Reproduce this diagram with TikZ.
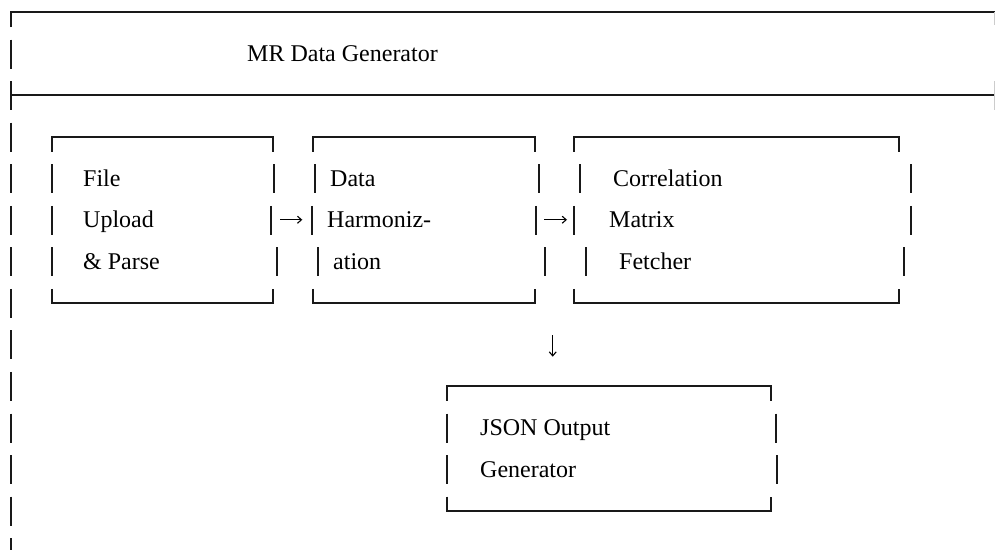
\documentclass[tikz,border=0pt]{standalone}
\usepackage{fontspec}
\setmainfont{Liberation Serif}
\usetikzlibrary{arrows.meta}
\newcommand\myB[1]{(20+41.55*(#1))}
\begin{document}
\begin{tikzpicture}[x=1pt,y=-1pt,
  frameline/.style={line width=2.1pt, line cap=butt, black!90},
  faintline/.style={line width=1pt, black!20},
  flow/.style={line width=1.1pt, -{Straight Barb[length=4pt,width=7pt,line width=1.1pt]}},
  lbl/.style={anchor=base west, inner sep=0pt, font=\fontsize{24}{28}\selectfont},
  boxarea/.style={draw=none, inner sep=0pt, outer sep=0pt, anchor=north west}]
\useasboundingbox (0,0) rectangle (995,549);
% outer frame
\draw[frameline] (11,{\myB{0}+7}) -- (11,{\myB{0}-8}) -- (995,{\myB{0}-8});
\draw[frameline] (11,{\myB{1}-22}) -- (11,{\myB{1}+7});
\draw[frameline] (11,{\myB{2}-22}) -- (11,{\myB{2}+7});
\draw[frameline] (11,{\myB{2}-8}) -- (995,{\myB{2}-8});
\foreach \r in {3,...,13} \draw[frameline] (11,{\myB{\r}-22}) -- (11,{\myB{\r}+7});
\draw[faintline] (994.3,{\myB{0}-8}) -- (994.3,{\myB{0}+5});
\draw[faintline] (994.3,{\myB{2}-22}) -- (994.3,{\myB{2}+7});
\node[lbl] (title) at (247,{\myB{1}}) {MR Data Generator};
% boxes
\node[boxarea, minimum width=221pt, minimum height=166.2pt] (upload) at (52,{\myB{3}-8}) {};
\node[boxarea, minimum width=221.7pt, minimum height=166.2pt] (harmon) at (313.3,{\myB{3}-8}) {};
\node[boxarea, minimum width=325pt, minimum height=166.2pt] (corr) at (574,{\myB{3}-8}) {};
\node[boxarea, minimum width=324pt, minimum height=124.65pt] (json) at (447,{\myB{9}-8}) {};
\foreach \b in {upload,harmon,corr,json}{
  \draw[frameline] ([yshift=-15pt]\b.north west) -- (\b.north west) -- (\b.north east) -- ([yshift=-15pt]\b.north east);
  \draw[frameline] ([yshift=14pt]\b.south west) -- (\b.south west) -- (\b.south east) -- ([yshift=14pt]\b.south east);
}
% side bars: x, row
\foreach \x/\r in {52/4,52/5,52/6,274/4,271/5,277/6,
                   315/4,311.7/5,318/6,539/4,535.7/5,545/6,
                   580/4,574/5,586/6,911/4,911/5,904/6,
                   447/10,447/11,776/10,777/11}
  \draw[frameline] (\x,{\myB{\r}-22}) -- (\x,{\myB{\r}+7});
% texts
\node[lbl] (upload1) at (83,{\myB{4}}) {File};
\node[lbl] (upload2) at (83,{\myB{5}}) {Upload};
\node[lbl] (upload3) at (83,{\myB{6}}) {\& Parse};
\node[lbl] (harmon1) at (330,{\myB{4}}) {Data};
\node[lbl] (harmon2) at (327,{\myB{5}}) {Harmoniz-};
\node[lbl] (harmon3) at (333,{\myB{6}}) {ation};
\node[lbl] (corr1) at (613,{\myB{4}}) {Correlation};
\node[lbl] (corr2) at (609,{\myB{5}}) {Matrix};
\node[lbl] (corr3) at (619,{\myB{6}}) {Fetcher};
\node[lbl] (json1) at (480,{\myB{10}}) {JSON Output};
\node[lbl] (json2) at (480,{\myB{11}}) {Generator};
% connectors
\draw[flow] ([xshift=7pt]upload.east) -- ([xshift=-11pt]harmon.west);
\draw[flow] ([xshift=9pt]harmon.east) -- ([xshift=-7pt]corr.west);
\coordinate (dx) at (552.7,0);
\draw[flow, shorten <=32.15pt, shorten >=29.3pt] (corr.south -| dx) -- (json.north -| dx);
\end{tikzpicture}
\end{document}
